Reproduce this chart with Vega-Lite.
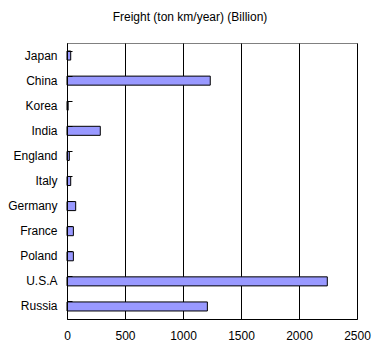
{
  "$schema": "https://vega.github.io/schema/vega-lite/v6.json",
  "width": 290,
  "height": 276,
  "autosize": "none",
  "padding": {"left": 67, "top": 43, "right": 24, "bottom": 42},
  "background": "white",
  "title": {"text": "Freight (ton km/year) (Billion)", "font": "Liberation Sans", "fontSize": 12, "fontWeight": "normal", "color": "black", "anchor": "middle", "dx": -22, "offset": 19},
  "config": {
    "view": {"stroke": "#808080", "strokeWidth": 1},
    "axis": {"labelFont": "Liberation Sans", "labelFontSize": 12, "labelColor": "black", "domainColor": "black", "domainWidth": 1}
  },
  "data": {"values": [
    {"country": "Japan", "freight": 32},
    {"country": "China", "freight": 1235},
    {"country": "Korea", "freight": 10},
    {"country": "India", "freight": 287},
    {"country": "England", "freight": 20},
    {"country": "Italy", "freight": 32},
    {"country": "Germany", "freight": 75},
    {"country": "France", "freight": 55},
    {"country": "Poland", "freight": 55},
    {"country": "U.S.A", "freight": 2244},
    {"country": "Russia", "freight": 1210}
  ]},
  "mark": {"type": "bar", "fill": "#9999FF", "stroke": "black", "strokeWidth": 1},
  "encoding": {
    "y": {"field": "country", "type": "nominal", "sort": null,
      "scale": {"paddingInner": 0.64, "paddingOuter": 0.32},
      "axis": {"title": null, "grid": false, "ticks": true, "tickSize": -5, "tickWidth": 1, "tickColor": "black", "tickOpacity": 1, "bandPosition": 0, "labelPadding": 15, "zindex": 1}},
    "x": {"field": "freight", "type": "quantitative",
      "scale": {"domain": [0, 2500], "nice": false},
      "axis": {"title": null, "values": [0, 500, 1000, 1500, 2000, 2500], "format": "d", "grid": true, "gridColor": "black", "gridOpacity": 1, "gridWidth": 1, "ticks": false, "labelPadding": 11, "labelFlush": false}}
  }
}
